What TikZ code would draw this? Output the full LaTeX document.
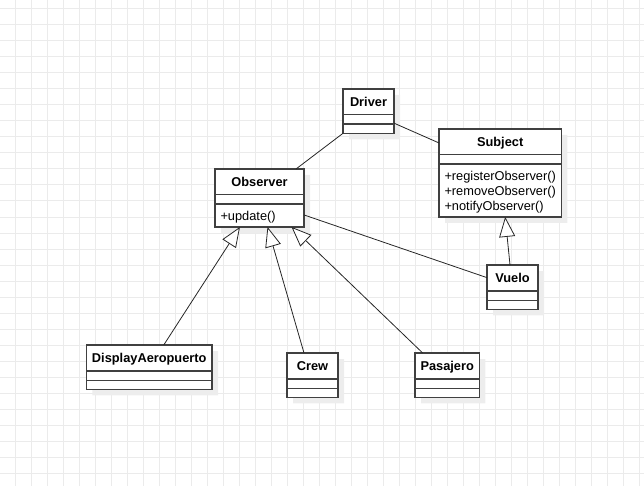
\documentclass[tikz,border=0pt]{standalone}
\usepackage{fontspec}
\setmainfont{Liberation Sans}
\usetikzlibrary{arrows.meta,positioning,shapes.multipart,shadows}

\newcommand{\cname}[1]{\textbf{\rule[-4.7pt]{0pt}{18.7pt}#1}}
\newcommand{\nopart}{\rule{0pt}{2pt}}
\newcommand{\optop}{\rule{0pt}{12.6pt}}
\newcommand{\opbot}{\rule[-3pt]{0pt}{0pt}}

\begin{document}
\begin{tikzpicture}[x=1pt, y=1pt,
    cls/.style={rectangle split, rectangle split parts=3,
      rectangle split part align={center,left,left},
      draw=black!75, line width=1.2pt, fill=white, outer sep=0pt,
      inner xsep=5.5pt, inner ysep=3pt, minimum width=51pt,
      align=left, anchor=north west,
      font=\fontsize{12.8}{15}\selectfont,
      drop shadow={shadow xshift=6pt, shadow yshift=-6pt,
        fill=black!7, opacity=1}},
    assoc/.style={draw=black!85, line width=0.8pt},
    inherit/.style={assoc, -{Triangle[length=20pt, width=16pt, fill=white]}},
    gridline/.style={draw=black!8, line width=1pt}]
    % background grid
    \useasboundingbox (0,0) rectangle (644,-486);
    \foreach \gx in {15,31,...,639} \draw[gridline] (\gx,0) -- (\gx,-486);
    \foreach \gy in {9,25,...,473} \draw[gridline] (0,-\gy) -- (644,-\gy);

    % classes
    \node[cls] (driver) at (343,-89)
        {\cname{Driver}\nodepart{two}\nopart\nodepart{three}\nopart};
    \node[cls, below right=40pt and 45pt of driver.north east] (subject)
        {\cname{Subject}\nodepart{two}\nopart\nodepart{three}%
         \optop+registerObserver()\\+removeObserver()\\+notifyObserver()\opbot};
    \node[cls, minimum width=89pt, below left=80pt and 39pt of driver.north west] (observer)
        {\cname{Observer}\nodepart{two}\nopart\nodepart{three}\optop+update()\opbot};
    \node[cls, below left=176pt and 3pt of observer.north west] (display)
        {\cname{DisplayAeropuerto}\nodepart{two}\nopart\nodepart{three}\nopart};
    \node[cls, below right=184pt and 72pt of observer.north west] (crew)
        {\cname{Crew}\nodepart{two}\nopart\nodepart{three}\nopart};
    \node[cls, below right=0pt and 77pt of crew.north east] (pasajero)
        {\cname{Pasajero}\nodepart{two}\nopart\nodepart{three}\nopart};
    \node[cls, below right=136pt and 48pt of subject.north west] (vuelo)
        {\cname{Vuelo}\nodepart{two}\nopart\nodepart{three}\nopart};

    % associations
    \draw[assoc] (driver.south west) -- ([xshift=36.5pt]observer.north);
    \draw[assoc] ([yshift=-12pt]driver.east) -- ([yshift=30pt]subject.west);
    \draw[assoc] ([yshift=-17pt]observer.east) -- ([yshift=9.5pt]vuelo.west);

    % generalisations
    \draw[inherit] ([xshift=14.5pt]display.north) -- ([xshift=-19.5pt]observer.south);
    \draw[inherit] ([xshift=-8.5pt]crew.north) -- ([xshift=8pt]observer.south);
    \draw[inherit] ([xshift=-24.5pt]pasajero.north) -- ([xshift=32pt]observer.south);
    \draw[inherit] ([xshift=-2.5pt]vuelo.north) -- ([xshift=5pt]subject.south);
\end{tikzpicture}
\end{document}
